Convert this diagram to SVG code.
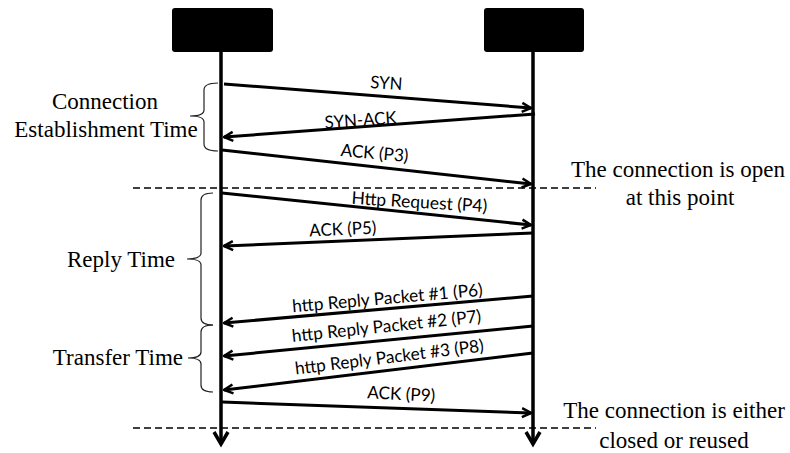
<svg xmlns="http://www.w3.org/2000/svg" width="790" height="453" viewBox="0 0 790 453">
<style>
.box{fill:#000}
.life{stroke:#000;stroke-width:3.5;fill:none}
.msg{stroke:#000;stroke-width:3;fill:none;marker-end:url(#arr)}
.dash{stroke:#000;stroke-width:1.5;stroke-dasharray:7 4;fill:none}
.brace{stroke:#222;stroke-width:1.2;fill:none}
.lbl{font-family:Lato,"Open Sans",sans-serif;font-size:17.5px;fill:#000;text-anchor:middle}
.serif{font-family:"Liberation Serif","Times New Roman",serif;font-size:23px;fill:#000}
</style>
<defs>
<marker id="arr" viewBox="0 0 12 12" refX="11" refY="6" markerWidth="12" markerHeight="12" markerUnits="userSpaceOnUse" orient="auto">
<path d="M2,1.5 L11,6 L2,10.5" fill="none" stroke="#000" stroke-width="2.5"/>
</marker>
</defs>
<g id="client">
<rect class="box" x="172" y="8" width="101" height="44" rx="3"/>
<line class="life" x1="221" y1="52" x2="221" y2="443"/>
<path d="M214,432 L221,444 L228,432" fill="none" stroke="#000" stroke-width="3.5"/>
</g>
<g id="server">
<rect class="box" x="484" y="8" width="100" height="44" rx="3"/>
<line class="life" x1="533" y1="52" x2="533" y2="443"/>
<path d="M526,432 L533,444 L540,432" fill="none" stroke="#000" stroke-width="3.5"/>
</g>
<g id="connectors">
<line class="msg" x1="224" y1="84" x2="531" y2="108"/>
<line class="msg" x1="535" y1="114" x2="224" y2="137"/>
<line class="msg" x1="222" y1="150" x2="531" y2="184"/>
<line class="msg" x1="222" y1="193" x2="531" y2="225"/>
<line class="msg" x1="533" y1="233" x2="224" y2="246"/>
<line class="msg" x1="533" y1="296" x2="224" y2="323"/>
<line class="msg" x1="533" y1="326" x2="224" y2="356"/>
<line class="msg" x1="533" y1="353" x2="224" y2="390"/>
<line class="msg" x1="222" y1="402" x2="531" y2="413"/>
<line class="dash" x1="133" y1="188" x2="596" y2="188"/>
<line class="dash" x1="133" y1="428" x2="596" y2="428"/>
</g>
<g id="msg-labels">
<text class="lbl" transform="translate(386,89) rotate(4)" textLength="32" lengthAdjust="spacingAndGlyphs">SYN</text>
<text class="lbl" transform="translate(361,126) rotate(-4)" textLength="72" lengthAdjust="spacingAndGlyphs">SYN-ACK</text>
<text class="lbl" transform="translate(374,159) rotate(5)" textLength="68" lengthAdjust="spacingAndGlyphs">ACK (P3)</text>
<text class="lbl" transform="translate(419,208) rotate(3.5)" textLength="136" lengthAdjust="spacingAndGlyphs">Http Request (P4)</text>
<text class="lbl" transform="translate(343,235) rotate(-2.5)" textLength="67" lengthAdjust="spacingAndGlyphs">ACK (P5)</text>
<text class="lbl" transform="translate(388,304) rotate(-5)" textLength="191" lengthAdjust="spacingAndGlyphs">http Reply Packet #1 (P6)</text>
<text class="lbl" transform="translate(387,332) rotate(-6)" textLength="190" lengthAdjust="spacingAndGlyphs">http Reply Packet #2 (P7)</text>
<text class="lbl" transform="translate(390,363) rotate(-7)" textLength="190" lengthAdjust="spacingAndGlyphs">http Reply Packet #3 (P8)</text>
<text class="lbl" transform="translate(401,400) rotate(3)" textLength="68" lengthAdjust="spacingAndGlyphs">ACK (P9)</text>
</g>
<g id="establishment">
<path class="brace" d="M218,83 Q204,83 204,90 L204,110 Q204,116 190,116 Q204,116 204,122 L204,144 Q204,151 218,151"/>
<text class="serif" x="105" y="109" text-anchor="middle">Connection</text>
<text class="serif" x="106" y="137" text-anchor="middle">Establishment Time</text>
</g>
<g id="reply">
<path class="brace" d="M213,193 Q201,193 201,200 L201,253 Q201,259 187,259 Q201,259 201,265 L201,318 Q201,325 213,325"/>
<text class="serif" x="175" y="267" text-anchor="end">Reply Time</text>
</g>
<g id="transfer">
<path class="brace" d="M213,325 Q201,325 201,332 L201,352 Q201,358 188,358 Q201,358 201,364 L201,385 Q201,392 213,392"/>
<text class="serif" x="183" y="365" text-anchor="end">Transfer Time</text>
</g>
<g id="open-note">
<text class="serif" x="678" y="177" text-anchor="middle">The connection is open</text>
<text class="serif" x="680" y="205" text-anchor="middle">at this point</text>
</g>
<g id="close-note">
<text class="serif" x="674" y="418" text-anchor="middle">The connection is either</text>
<text class="serif" x="674" y="448" text-anchor="middle">closed or reused</text>
</g>
</svg>
